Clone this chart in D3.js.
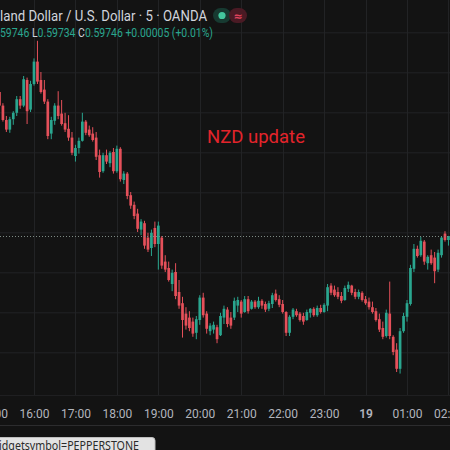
<!DOCTYPE html>
<html>
<head>
<meta charset="utf-8">
<script src="https://cdn.jsdelivr.net/npm/d3@7/dist/d3.min.js"></script>
<style>
  html, body { margin: 0; padding: 0; background: #131313; overflow: hidden; }
  svg { display: block; }
</style>
</head>
<body>
<svg id="chart" width="450" height="450"></svg>
<script>
// ---- Data (NZD/USD, 5-minute candles, first bar 15:10 on 18 Jan) ----
const symbolTitle = "New Zealand Dollar / U.S. Dollar · 5 · OANDA";
const annotation = "NZD update";
const firstBar = new Date(2024, 0, 18, 15, 10);
const barMinutes = 5;
const opens = [0.59926,0.59909,0.59891,0.59879,0.59892,0.59900,0.59917,0.59909,0.59941,0.59904,
0.59936,0.59964,0.59941,0.59929,0.59914,0.59874,0.59890,0.59909,0.59899,0.59887,
0.59880,0.59869,0.59846,0.59856,0.59865,0.59889,0.59879,0.59874,0.59869,0.59847,
0.59827,0.59847,0.59837,0.59851,0.59827,0.59855,0.59816,0.59824,0.59797,0.59785,
0.59774,0.59754,0.59762,0.59744,0.59731,0.59756,0.59736,0.59744,0.59714,0.59706,
0.59686,0.59701,0.59676,0.59662,0.59649,0.59644,0.59639,0.59625,0.59641,0.59669,
0.59649,0.59627,0.59629,0.59632,0.59622,0.59644,0.59654,0.59644,0.59644,0.59659,
0.59664,0.59651,0.59667,0.59655,0.59664,0.59657,0.59665,0.59661,0.59655,0.59661,
0.59674,0.59667,0.59661,0.59651,0.59625,0.59645,0.59652,0.59649,0.59646,0.59641,
0.59650,0.59655,0.59647,0.59656,0.59651,0.59659,0.59684,0.59679,0.59676,0.59671,
0.59666,0.59680,0.59684,0.59676,0.59670,0.59675,0.59667,0.59664,0.59657,0.59652,
0.59642,0.59631,0.59621,0.59649,0.59620,0.59604,0.59580,0.59627,0.59645,0.59661,
0.59705,0.59730,0.59722,0.59739,0.59712,0.59722,0.59719,0.59704,0.59722,0.59749,
0.59741];
const highs = [0.59931,0.59912,0.59896,0.59895,0.59902,0.59921,0.59921,0.59946,0.59944,0.59940,
0.59968,0.59990,0.59951,0.59941,0.59917,0.59895,0.59912,0.59927,0.59916,0.59900,
0.59897,0.59876,0.59860,0.59869,0.59900,0.59891,0.59884,0.59882,0.59876,0.59854,
0.59850,0.59854,0.59852,0.59856,0.59859,0.59857,0.59827,0.59826,0.59801,0.59789,
0.59780,0.59767,0.59765,0.59750,0.59754,0.59764,0.59764,0.59746,0.59722,0.59714,
0.59704,0.59712,0.59691,0.59670,0.59657,0.59652,0.59644,0.59646,0.59672,0.59675,
0.59652,0.59637,0.59639,0.59635,0.59650,0.59659,0.59657,0.59651,0.59669,0.59670,
0.59666,0.59671,0.59671,0.59666,0.59666,0.59670,0.59667,0.59664,0.59665,0.59675,
0.59679,0.59672,0.59666,0.59652,0.59647,0.59656,0.59655,0.59651,0.59650,0.59654,
0.59656,0.59657,0.59659,0.59660,0.59662,0.59686,0.59687,0.59684,0.59682,0.59676,
0.59684,0.59689,0.59685,0.59680,0.59679,0.59677,0.59671,0.59669,0.59664,0.59656,
0.59649,0.59639,0.59654,0.59689,0.59622,0.59612,0.59631,0.59650,0.59666,0.59710,
0.59736,0.59734,0.59745,0.59741,0.59722,0.59729,0.59726,0.59729,0.59746,0.59752,
0.59746];
const lows = [0.59906,0.59889,0.59876,0.59875,0.59885,0.59896,0.59905,0.59907,0.59886,0.59901,
0.59934,0.59936,0.59924,0.59911,0.59867,0.59867,0.59885,0.59892,0.59884,0.59876,
0.59865,0.59847,0.59839,0.59849,0.59864,0.59872,0.59870,0.59864,0.59841,0.59819,
0.59825,0.59836,0.59832,0.59824,0.59825,0.59814,0.59811,0.59792,0.59780,0.59767,
0.59751,0.59747,0.59730,0.59726,0.59721,0.59732,0.59704,0.59705,0.59701,0.59689,
0.59677,0.59667,0.59655,0.59619,0.59629,0.59627,0.59620,0.59617,0.59635,0.59644,
0.59624,0.59622,0.59624,0.59612,0.59621,0.59636,0.59632,0.59630,0.59641,0.59651,
0.59644,0.59650,0.59649,0.59654,0.59655,0.59655,0.59655,0.59651,0.59652,0.59656,
0.59664,0.59657,0.59649,0.59621,0.59621,0.59642,0.59645,0.59639,0.59635,0.59640,
0.59644,0.59645,0.59645,0.59649,0.59650,0.59652,0.59672,0.59670,0.59667,0.59662,
0.59665,0.59676,0.59672,0.59667,0.59667,0.59664,0.59660,0.59654,0.59649,0.59639,
0.59626,0.59617,0.59619,0.59617,0.59597,0.59576,0.59574,0.59625,0.59639,0.59659,
0.59701,0.59719,0.59720,0.59710,0.59704,0.59710,0.59687,0.59701,0.59719,0.59739,
0.59734];
const closes = [0.59909,0.59891,0.59879,0.59892,0.59900,0.59917,0.59909,0.59942,0.59902,0.59936,
0.59964,0.59939,0.59926,0.59914,0.59871,0.59891,0.59909,0.59896,0.59886,0.59879,
0.59869,0.59850,0.59856,0.59865,0.59889,0.59875,0.59872,0.59866,0.59845,0.59826,
0.59847,0.59839,0.59850,0.59827,0.59855,0.59817,0.59824,0.59796,0.59784,0.59771,
0.59755,0.59764,0.59734,0.59729,0.59750,0.59736,0.59759,0.59709,0.59704,0.59691,
0.59700,0.59671,0.59659,0.59641,0.59634,0.59631,0.59624,0.59642,0.59669,0.59647,
0.59630,0.59634,0.59635,0.59617,0.59646,0.59655,0.59636,0.59634,0.59665,0.59666,
0.59649,0.59667,0.59652,0.59664,0.59657,0.59665,0.59659,0.59654,0.59662,0.59672,
0.59666,0.59660,0.59651,0.59625,0.59645,0.59654,0.59647,0.59641,0.59639,0.59651,
0.59655,0.59647,0.59656,0.59651,0.59660,0.59682,0.59675,0.59672,0.59670,0.59665,
0.59681,0.59685,0.59675,0.59670,0.59676,0.59666,0.59662,0.59657,0.59651,0.59641,
0.59629,0.59620,0.59650,0.59621,0.59601,0.59580,0.59627,0.59646,0.59662,0.59706,
0.59730,0.59721,0.59740,0.59714,0.59720,0.59712,0.59702,0.59725,0.59744,0.59741,
0.59746];
const tickTimes = [
  new Date(2024,0,18,15), new Date(2024,0,18,16), new Date(2024,0,18,17), new Date(2024,0,18,18),
  new Date(2024,0,18,19), new Date(2024,0,18,20), new Date(2024,0,18,21), new Date(2024,0,18,22),
  new Date(2024,0,18,23), new Date(2024,0,19,0), new Date(2024,0,19,1), new Date(2024,0,19,2)];
const tickLabels = ["15:00","16:00","17:00","18:00","19:00","20:00","21:00","22:00","23:00","19","01:00","02:00"];
const priceGrid = [0.6000,0.5995,0.5990,0.5985,0.5980,0.5975,0.5970,0.5965,0.5960];
const legendLabels = ["O", "H", "L", "C"];
const legendValues = ["0.59741", "0.59746", "0.59734", "0.59746"];
const legendChange = "+0.00005 (+0.01%)";
const statusText = "widgetsymbol=PEPPERSTONE";

// ---- Build table ----
const bars = opens.map((o, i) => ({
  t: new Date(firstBar.getTime() + i * barMinutes * 60000),
  o, h: highs[i], l: lows[i], c: closes[i]
}));

// ---- Layout ----
const W = 450, H = 450;
const paneBottom = 395, axisBottom = 425;
const BG = "#131313", GRID = "#222325", UP = "#2aa68f", DOWN = "#e5505a", TEXT = "#d1d4dc";
const FONT = "Roboto, 'Noto Sans', sans-serif";

const svg = d3.select("#chart");
svg.append("rect").attr("width", W).attr("height", H).attr("fill", BG);

// measure helper: width of a string in a font
function measure(str, font, size, weight) {
  const t = svg.append("text").attr("font-family", font).attr("font-size", size)
    .attr("font-weight", weight || 400).attr("xml:space", "preserve").style("white-space", "pre").text(str);
  const w = t.node().getComputedTextLength();
  t.remove();
  return w;
}
// place text so that the part after `hiddenPrefix` spans [a, b]
function fitText(sel, full, hiddenPrefix, a, b, font, size) {
  const wf = measure(full, font, size);
  const wp = hiddenPrefix ? measure(hiddenPrefix, font, size) : 0;
  const k = (b - a) / (wf - wp);
  sel.attr("x", a - wp * k).attr("textLength", wf * k).attr("lengthAdjust", "spacingAndGlyphs");
}

const x = d3.scaleTime()
  .domain([new Date(2024,0,18,16), new Date(2024,0,19,1)])
  .range([34, 407]);
const y = d3.scaleLinear()
  .domain([0.5975, 0.6000])
  .range([232.8, 32.8]);

// grid
const grid = svg.append("g");
grid.selectAll("line.h").data(priceGrid).join("line")
  .attr("x1", 0).attr("x2", W)
  .attr("y1", d => y(d)).attr("y2", d => y(d))
  .attr("stroke", GRID).attr("stroke-width", 1);
grid.selectAll("line.v").data(tickTimes).join("line")
  .attr("x1", d => Math.round(x(d)) + 0.5).attr("x2", d => Math.round(x(d)) + 0.5)
  .attr("y1", 0).attr("y2", paneBottom)
  .attr("stroke", GRID).attr("stroke-width", 1);

// candles
const bodyW = 2.7;
const cg = svg.append("g");
cg.selectAll("line.wick").data(bars).join("line")
  .attr("x1", d => x(d.t)).attr("x2", d => x(d.t))
  .attr("y1", d => y(d.h)).attr("y2", d => y(d.l))
  .attr("stroke", d => d.c >= d.o ? UP : DOWN).attr("stroke-width", 1);
cg.selectAll("rect.body").data(bars).join("rect")
  .attr("x", d => x(d.t) - bodyW / 2)
  .attr("width", bodyW)
  .attr("y", d => y(Math.max(d.o, d.c)))
  .attr("height", d => Math.max(1, Math.abs(y(d.o) - y(d.c))))
  .attr("fill", d => d.c >= d.o ? UP : DOWN);

// last price dotted line
const last = bars[bars.length - 1];
svg.append("line")
  .attr("x1", 0).attr("x2", W)
  .attr("y1", Math.round(y(last.c)) + 0.5).attr("y2", Math.round(y(last.c)) + 0.5)
  .attr("stroke", "#7d8a84").attr("stroke-width", 1)
  .attr("stroke-dasharray", "1,2");

// time axis
svg.append("line").attr("x1", 0).attr("x2", W).attr("y1", paneBottom + 0.5).attr("y2", paneBottom + 0.5)
  .attr("stroke", "#1f1f21");
svg.append("line").attr("x1", 0).attr("x2", W).attr("y1", axisBottom + 0.5).attr("y2", axisBottom + 0.5)
  .attr("stroke", "#2c2c2e");
const axis = d3.axisBottom(x).tickValues(tickTimes)
  .tickFormat((d, i) => tickLabels[i]).tickSize(0).tickPadding(0);
const ag = svg.append("g").attr("transform", `translate(0, 409)`).call(axis);
ag.select(".domain").remove();
ag.selectAll("text")
  .attr("fill", "#b2b5be")
  .attr("font-family", FONT)
  .attr("font-size", 12)
  .attr("dy", "0.32em")
  .attr("y", 5)
  .attr("font-weight", (d, i) => tickLabels[i] === "19" ? 600 : 400);

// header title (its left part runs off the frame, as in the screenshot)
const title = svg.append("text")
  .attr("y", 21)
  .attr("fill", TEXT)
  .attr("font-family", FONT)
  .attr("font-size", 15.5)
  .text(symbolTitle);
fitText(title, symbolTitle, "New Zea", 0, 207, FONT, 15.5);

// status pills
svg.append("rect").attr("x", 213).attr("y", 8).attr("width", 18).attr("height", 15).attr("rx", 7.5).attr("fill", "#173a31");
svg.append("rect").attr("x", 229).attr("y", 8).attr("width", 18).attr("height", 15).attr("rx", 7.5).attr("fill", "#4a1a24");
svg.append("circle").attr("cx", 222).attr("cy", 15.5).attr("r", 3.6).attr("fill", "#43c79e");
svg.append("text").attr("x", 238).attr("y", 20).attr("text-anchor", "middle")
  .attr("fill", "#e0445e").attr("font-family", "DejaVu Sans, sans-serif").attr("font-size", 11).attr("font-weight", 700)
  .text("≈");

// OHLC legend
const legendFull = legendLabels.map((l, i) => l + legendValues[i]).join(" ") + " " + legendChange;
const leg = svg.append("text").attr("y", 37)
  .attr("font-family", FONT).attr("font-size", 12.5).attr("xml:space", "preserve").style("white-space", "pre");
legendLabels.forEach((l, i) => {
  leg.append("tspan").attr("fill", TEXT).text(l);
  leg.append("tspan").attr("fill", UP).text(legendValues[i] + " ");
});
leg.append("tspan").attr("fill", UP).text(legendChange);
fitText(leg, legendFull, "O" + legendValues[0] + " H0.", 0, 213, FONT, 12.5);

// annotation
svg.append("text").attr("x", 207).attr("y", 143)
  .attr("fill", "#e3242b")
  .attr("font-family", FONT)
  .attr("font-size", 18.5)
  .text(annotation);

// browser status bar
const SFONT = "'Noto Sans', 'Open Sans', sans-serif";
svg.append("rect").attr("x", -4).attr("y", 437.5).attr("width", 159).attr("height", 20).attr("rx", 3)
  .attr("fill", "#e3e3e3").attr("stroke", "#bdbdbd");
const st = svg.append("text").attr("y", 450)
  .attr("fill", "#2b2b2b").attr("font-family", SFONT).attr("font-size", 12.5)
  .text(statusText);
fitText(st, statusText, "w", -1, 139, SFONT, 12.5);
</script>
</body>
</html>
